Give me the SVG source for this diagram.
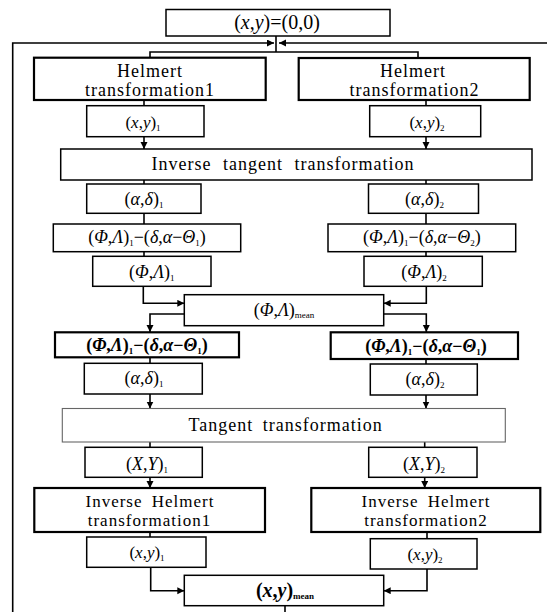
<svg xmlns="http://www.w3.org/2000/svg" width="547" height="612" viewBox="0 0 547 612">
<style>
.box{fill:#fff;stroke:#000;stroke-width:1.5}
.thick{stroke-width:2.2}
.thin{stroke:#666;stroke-width:1.1}
.t{font-family:"Liberation Serif","Times New Roman",serif;font-size:18px;text-anchor:middle;fill:#000}
.lab{letter-spacing:1px;word-spacing:4px}
.f17{font-size:17px}
.f20{font-size:20px}
.b{font-weight:bold}
.i{font-style:italic}
.sub{font-size:9px}
.ln{fill:none;stroke:#000;stroke-width:1.6}
</style>
<defs>
<marker id="ah" markerUnits="userSpaceOnUse" markerWidth="8" markerHeight="8" refX="7" refY="3.5" orient="auto">
<path d="M0,0 L7,3.5 L0,7 z" fill="#000"/>
</marker>
</defs>
<rect width="547" height="612" fill="#fff"/>

<g id="connectors">
<path class="ln" d="M276,36 V52"/>
<path class="ln" d="M150,57.7 V52 H418 V58"/>
<path class="ln" d="M12.7,612 V43 H274" marker-end="url(#ah)"/>
<path class="ln" d="M547,43 H279" marker-end="url(#ah)"/>
<path class="ln" d="M144,100 V105.7"/>
<path class="ln" d="M426,100 V105.7"/>
<path class="ln" d="M144,136.7 V149" marker-end="url(#ah)"/>
<path class="ln" d="M426,136.7 V149" marker-end="url(#ah)"/>
<path class="ln" d="M144,180 V184"/>
<path class="ln" d="M426,180 V184"/>
<path class="ln" d="M144,213.3 V224"/>
<path class="ln" d="M426,213.3 V224"/>
<path class="ln" d="M144,251.7 V256.3"/>
<path class="ln" d="M426,251.7 V256.3"/>
<path class="ln" d="M143.3,286.3 V303.3 H184.3" marker-end="url(#ah)"/>
<path class="ln" d="M426.3,286.3 V303.3 H383.7" marker-end="url(#ah)"/>
<path class="ln" d="M184.3,314 H150 V332" marker-end="url(#ah)"/>
<path class="ln" d="M383.7,314 H426.3 V332" marker-end="url(#ah)"/>
<path class="ln" d="M150,357.3 V363.3"/>
<path class="ln" d="M426,359 V364"/>
<path class="ln" d="M150,394 V408.5" marker-end="url(#ah)"/>
<path class="ln" d="M426,395 V408.5" marker-end="url(#ah)"/>
<path class="ln" d="M150,442 V447.3"/>
<path class="ln" d="M424.7,442 V447.3"/>
<path class="ln" d="M150,477.3 V488" marker-end="url(#ah)"/>
<path class="ln" d="M424.7,477.3 V488" marker-end="url(#ah)"/>
<path class="ln" d="M150,532 V537"/>
<path class="ln" d="M427,532 V538.7"/>
<path class="ln" d="M150.7,567.3 V590.7 H184.3" marker-end="url(#ah)"/>
<path class="ln" d="M427,569 V590.7 H383.7" marker-end="url(#ah)"/>
<path class="ln" d="M285,605.7 V612"/>
</g>

<g id="start">
<rect class="box" x="166" y="9.5" width="224" height="26.5"/>
<text class="t f20" x="277" y="29">(<tspan class="i">x</tspan>,<tspan class="i">y</tspan>)=(0,0)</text>
</g>

<g id="helmert1">
<rect class="box thick" x="34" y="57.7" width="231.7" height="42.3"/>
<text class="t lab" x="150" y="76.5">Helmert</text>
<text class="t lab" x="150" y="96">transformation1</text>
</g>
<g id="helmert2">
<rect class="box thick" x="298.7" y="58" width="231" height="42"/>
<text class="t lab" x="413" y="76.5">Helmert</text>
<text class="t lab" x="414.5" y="96">transformation2</text>
</g>

<g id="xy1a">
<rect class="box" x="86.7" y="105.7" width="117.3" height="31"/>
<text class="t f17" x="143" y="127.5">(<tspan class="i">x</tspan>,<tspan class="i">y</tspan>)<tspan class="sub" dy="3">1</tspan></text>
</g>
<g id="xy2a">
<rect class="box" x="369.7" y="105.7" width="111" height="31"/>
<text class="t f17" x="427" y="127.5">(<tspan class="i">x</tspan>,<tspan class="i">y</tspan>)<tspan class="sub" dy="3">2</tspan></text>
</g>

<g id="invtan">
<rect class="box" x="60.7" y="149" width="471.3" height="31"/>
<text class="t lab" x="283" y="169.5" style="word-spacing:6px">Inverse tangent transformation</text>
</g>

<g id="ad1a">
<rect class="box" x="86.7" y="184" width="114.3" height="29.3"/>
<text class="t" x="144" y="204.5">(<tspan class="i">α</tspan>,<tspan class="i">δ</tspan>)<tspan class="sub" dy="3">1</tspan></text>
</g>
<g id="ad2a">
<rect class="box" x="368.5" y="184" width="110" height="29.3"/>
<text class="t" x="424.5" y="204.5">(<tspan class="i">α</tspan>,<tspan class="i">δ</tspan>)<tspan class="sub" dy="3">2</tspan></text>
</g>

<g id="rot1">
<rect class="box" x="53.3" y="224" width="187.4" height="27.7"/>
<text class="t" x="147" y="243">(<tspan class="i">Φ</tspan>,<tspan class="i">Λ</tspan>)<tspan class="sub" dy="3">1</tspan><tspan dy="-3">−(</tspan><tspan class="i">δ</tspan>,<tspan class="i">α</tspan>−<tspan class="i">Θ</tspan><tspan class="sub" dy="3">1</tspan><tspan dy="-3">)</tspan></text>
</g>
<g id="rot2">
<rect class="box" x="328" y="224" width="187.7" height="27.7"/>
<text class="t" x="421.8" y="243">(<tspan class="i">Φ</tspan>,<tspan class="i">Λ</tspan>)<tspan class="sub" dy="3">1</tspan><tspan dy="-3">−(</tspan><tspan class="i">δ</tspan>,<tspan class="i">α</tspan>−<tspan class="i">Θ</tspan><tspan class="sub" dy="3">2</tspan><tspan dy="-3">)</tspan></text>
</g>

<g id="pl1">
<rect class="box" x="92.7" y="256.3" width="118.3" height="30"/>
<text class="t" x="151.8" y="277.5">(<tspan class="i">Φ</tspan>,<tspan class="i">Λ</tspan>)<tspan class="sub" dy="3">1</tspan></text>
</g>
<g id="pl2">
<rect class="box" x="364" y="256.3" width="118.3" height="30"/>
<text class="t" x="424" y="277.5">(<tspan class="i">Φ</tspan>,<tspan class="i">Λ</tspan>)<tspan class="sub" dy="3">2</tspan></text>
</g>

<g id="plmean">
<rect class="box" x="184.3" y="294.7" width="199.4" height="31"/>
<text class="t" x="284" y="315.5">(<tspan class="i">Φ</tspan>,<tspan class="i">Λ</tspan>)<tspan class="sub" dy="2">mean</tspan></text>
</g>

<g id="irot1">
<rect class="box thick" x="55" y="332.3" width="184" height="25"/>
<text class="t b" x="147" y="351">(<tspan class="i">Φ</tspan>,<tspan class="i">Λ</tspan>)<tspan class="sub" dy="3">1</tspan><tspan dy="-3">−(</tspan><tspan class="i">δ</tspan>,<tspan class="i">α</tspan>−<tspan class="i">Θ</tspan><tspan class="sub" dy="3">1</tspan><tspan dy="-3">)</tspan></text>
</g>
<g id="irot2">
<rect class="box thick" x="330.7" y="332.3" width="187.3" height="26.7"/>
<text class="t b" x="426" y="352">(<tspan class="i">Φ</tspan>,<tspan class="i">Λ</tspan>)<tspan class="sub" dy="3">1</tspan><tspan dy="-3">−(</tspan><tspan class="i">δ</tspan>,<tspan class="i">α</tspan>−<tspan class="i">Θ</tspan><tspan class="sub" dy="3">1</tspan><tspan dy="-3">)</tspan></text>
</g>

<g id="ad1b">
<rect class="box" x="84.3" y="363.3" width="118" height="30.7"/>
<text class="t" x="144" y="384">(<tspan class="i">α</tspan>,<tspan class="i">δ</tspan>)<tspan class="sub" dy="3">1</tspan></text>
</g>
<g id="ad2b">
<rect class="box" x="370.3" y="364" width="107" height="31"/>
<text class="t" x="425" y="385">(<tspan class="i">α</tspan>,<tspan class="i">δ</tspan>)<tspan class="sub" dy="3">2</tspan></text>
</g>

<g id="tan">
<rect class="box thin" x="62.3" y="408.5" width="443" height="33.5"/>
<text class="t lab" x="285.7" y="431">Tangent transformation</text>
</g>

<g id="XY1">
<rect class="box" x="85" y="447.3" width="117.3" height="30"/>
<text class="t" x="147" y="469.5">(<tspan class="i">X</tspan>,<tspan class="i">Y</tspan>)<tspan class="sub" dy="3">1</tspan></text>
</g>
<g id="XY2">
<rect class="box" x="368.7" y="447.3" width="108.3" height="30"/>
<text class="t" x="424" y="469.5">(<tspan class="i">X</tspan>,<tspan class="i">Y</tspan>)<tspan class="sub" dy="3">2</tspan></text>
</g>

<g id="ihelmert1">
<rect class="box thick" x="34.3" y="488" width="230.7" height="44"/>
<text class="t lab f17" x="150" y="506.5">Inverse Helmert</text>
<text class="t lab f17" x="149.5" y="525.5">transformation1</text>
</g>
<g id="ihelmert2">
<rect class="box thick" x="311.3" y="488" width="229" height="44"/>
<text class="t lab f17" x="426" y="506.5">Inverse Helmert</text>
<text class="t lab f17" x="426" y="525.5">transformation2</text>
</g>

<g id="xy1b">
<rect class="box" x="86.7" y="537" width="119.3" height="30.3"/>
<text class="t f17" x="147" y="558">(<tspan class="i">x</tspan>,<tspan class="i">y</tspan>)<tspan class="sub" dy="3">1</tspan></text>
</g>
<g id="xy2b">
<rect class="box" x="370.3" y="538.7" width="106.7" height="30.3"/>
<text class="t f17" x="425" y="559.5">(<tspan class="i">x</tspan>,<tspan class="i">y</tspan>)<tspan class="sub" dy="3">2</tspan></text>
</g>

<g id="xymean">
<rect class="box" x="184.3" y="575.3" width="199.4" height="30.4"/>
<text class="t f20 b" x="285" y="597">(<tspan class="i">x</tspan>,<tspan class="i">y</tspan>)<tspan class="sub" dy="2">mean</tspan></text>
</g>
</svg>
